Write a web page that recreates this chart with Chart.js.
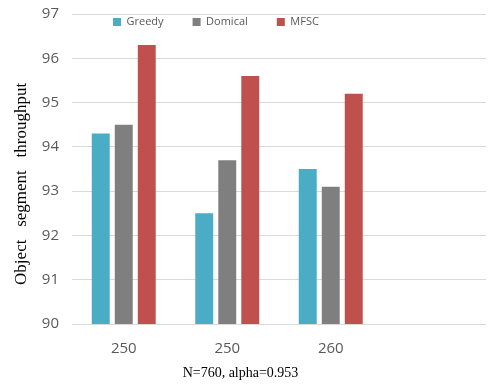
<!DOCTYPE html>
<html>
<head>
<meta charset="utf-8">
<script src="https://cdn.jsdelivr.net/npm/chart.js@4"></script>
<style>
html,body{margin:0;padding:0;background:#fff;}
#wrap{width:488px;height:384px;position:relative;}
</style>
</head>
<body>
<div id="wrap"><canvas id="c" width="488" height="384"></canvas></div>
<script>
const categories = ['250', '250', '260', ''];
const greedy = [94.3, 92.5, 93.5, null];
const domical = [94.5, 93.7, 93.1, null];
const mfsc = [96.3, 95.6, 95.2, null];
const yTicks = [90, 91, 92, 93, 94, 95, 96, 97];

// Legend overlays the top of the plot area (as in the reference)
const legendOverlay = {
  id: 'legendOverlay',
  beforeLayout(chart) {
    const lg = chart.legend;
    if (lg && !lg._overlayPatched) {
      const origFit = lg.fit.bind(lg);
      lg.fit = function () { origFit(); this.height = 0; };
      lg._overlayPatched = true;
    }
  },
  afterLayout(chart) {
    const lg = chart.legend;
    const p = lg.options.labels.padding;
    lg.left = 113 - p;
    lg.top = 16.5 - p;
    lg.right = chart.width;
    lg.bottom = 60;
    lg.width = lg.right - lg.left;
    lg.height = lg.bottom - lg.top;
  }
};

new Chart(document.getElementById('c'), {
  type: 'bar',
  data: {
    labels: categories,
    datasets: [
      { label: 'Greedy', data: greedy, backgroundColor: '#4bacc6' },
      { label: 'Domical', data: domical, backgroundColor: '#7f7f7f' },
      { label: 'MFSC', data: mfsc, backgroundColor: '#c0504d' }
    ]
  },
  options: {
    responsive: false,
    animation: false,
    devicePixelRatio: 1,
    layout: { padding: { left: 0, right: 2, top: 14, bottom: 0 } },
    datasets: { bar: { categoryPercentage: 0.667, barPercentage: 0.78 } },
    plugins: {
      legend: {
        position: 'top',
        align: 'start',
        labels: {
          boxWidth: 8, boxHeight: 8, padding: 29,
          color: '#595959',
          font: { family: 'Open Sans', size: 11 }
        }
      },
      tooltip: { enabled: false }
    },
    scales: {
      x: {
        grid: { display: false },
        border: { display: false },
        ticks: { color: '#595959', padding: 8, font: { family: 'Open Sans', size: 15 } },
        title: {
          display: true,
          text: 'N=760, alpha=0.953' + '\u00a0'.repeat(22),
          color: '#000',
          font: { family: 'Liberation Serif', size: 14 },
          padding: { top: 0, bottom: 2 }
        },
        afterFit(s) { s.height = 60; }
      },
      y: {
        min: 90, max: 97,
        afterBuildTicks(s) { s.ticks = yTicks.map(v => ({ value: v })); },
        grid: { color: '#d9d9d9', drawTicks: false },
        border: { display: false },
        ticks: { color: '#595959', padding: 13, font: { family: 'Open Sans', size: 15 } },
        title: {
          display: true,
          text: 'Object   segment   throughput' + '\u00a0'.repeat(7),
          color: '#000',
          font: { family: 'Liberation Serif', size: 17 },
          padding: { top: 11, bottom: 0 }
        },
        afterFit(s) { s.width = 72; s.paddingTop = 0; s.paddingBottom = 0; }
      }
    }
  },
  plugins: [legendOverlay]
});
</script>
</body>
</html>
